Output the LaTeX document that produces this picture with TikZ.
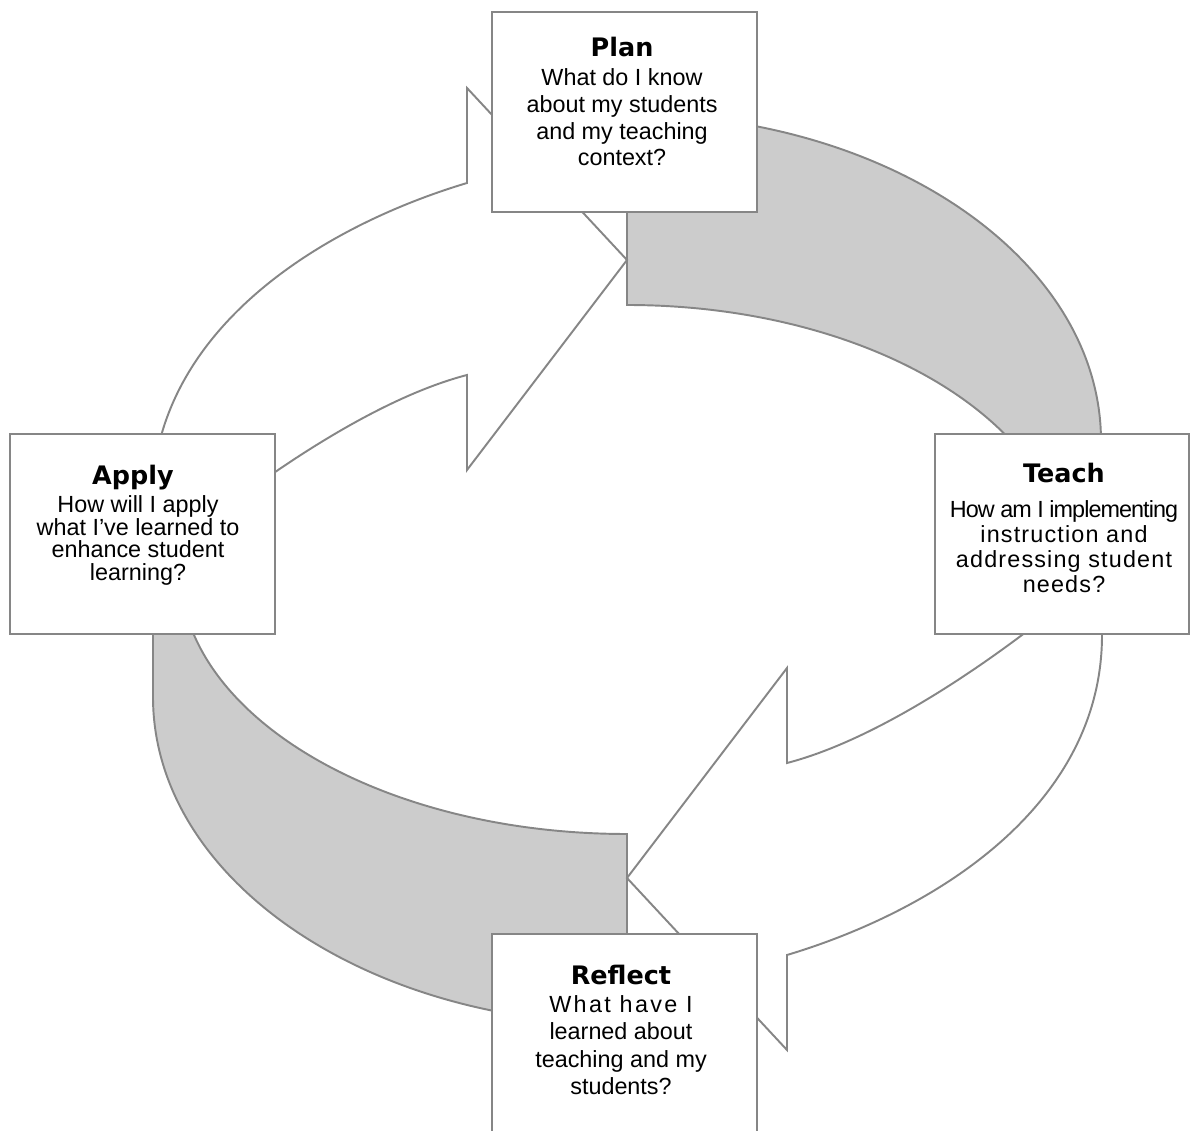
\documentclass[tikz,border=0pt]{standalone}
\usepackage{fontspec}
\setmainfont{Liberation Sans}
\newfontfamily\headfamily{DejaVu Sans}
\usetikzlibrary{positioning}

\definecolor{linegray}{RGB}{134,134,134}
\definecolor{arrowgray}{RGB}{204,204,204}

\newcommand{\headfont}{\headfamily\bfseries\fontsize{14.5}{17}\selectfont}
\newcommand{\bodyfont}{\fontsize{13.3}{15.3}\selectfont}
\newcommand{\spaced}[2]{{\addfontfeatures{LetterSpace=#1}#2}}

\tikzset{
  box/.style={draw=linegray, fill=white, line width=1.2pt, minimum width=5.3cm, minimum height=4cm, inner sep=0pt, outer sep=0pt},
  head/.style={font=\headfont, anchor=base, inner sep=0pt},
  body/.style={font=\bodyfont, align=center, anchor=north, inner sep=0pt},
  grayarrow/.style={draw=linegray, fill=arrowgray, line width=1.1pt},
  whitearrow/.style={draw=linegray, fill=white, line width=1.1pt}
}

\begin{document}
\begin{tikzpicture}[x=0.02cm, y=-0.02cm]
    \useasboundingbox (0,0) rectangle (1190,1131);

    % the four curved arrows
    \draw[grayarrow] (627,114) .. controls (889,114) and (1101,260) .. (1101,441)
        -- (1101,570) -- (1067,570) .. controls (1067,424) and (870,305) .. (627,305) -- cycle;
    \draw[grayarrow] (627,1024) .. controls (365,1024) and (153,878) .. (153,697)
        -- (153,569) -- (180,569) .. controls (180,715) and (380,834) .. (627,834) -- cycle;
    \draw[whitearrow] (152,560) -- (152,503) .. controls (152,333) and (317,228) .. (467,183)
        -- (467,88) -- (627,260) -- (467,470) -- (467,375)
        .. controls (390,395) and (300,452) .. (232,503) -- cycle;
    \draw[whitearrow] (1102,578) -- (1102,635) .. controls (1102,805) and (937,910) .. (787,955)
        -- (787,1050) -- (627,878) -- (787,668) -- (787,763)
        .. controls (864,743) and (954,686) .. (1022,635) -- (1046,617) -- cycle;

    % boxes
    \node[box] (plan) at (624.5,112) {};
    \node[box] (apply) at (142.5,534) {};
    \node[box, minimum width=5.08cm] (teach) at (1062,534) {};
    \node[box] (reflect) at (624.5,1034) {};

    % titles and questions
    \node[head] (plantitle) at (622,57) {Plan};
    \node[body, below=0.22cm of plantitle.base] (plantext)
        {What do I know\\about my students\\and my teaching\\context?};

    \node[head] (applytitle) at (133,485) {Apply};
    \node[body, font={\fontsize{13.3}{13}\selectfont}, below=0.2cm of applytitle.base, xshift=0.1cm] (applytext)
        {How will I apply\\what I’ve learned to\\enhance student\\learning?};

    \node[head] (teachtitle) at (1064,483) {Teach};
    \node[body, font={\fontsize{13.3}{14.2}\selectfont}, below=0.34cm of teachtitle.base] (teachtext)
        {\spaced{-4}{How am I implementing}\\\spaced{5}{instruction and}\\\spaced{5}{addressing student}\\\spaced{5}{needs?}};

    \node[head] (reflecttitle) at (621,984) {Reflect};
    \node[body, font={\fontsize{13.3}{15.6}\selectfont}, below=0.22cm of reflecttitle.base] (reflecttext)
        {\spaced{10}{What have I}\\learned about\\teaching and my\\students?};
\end{tikzpicture}
\end{document}
